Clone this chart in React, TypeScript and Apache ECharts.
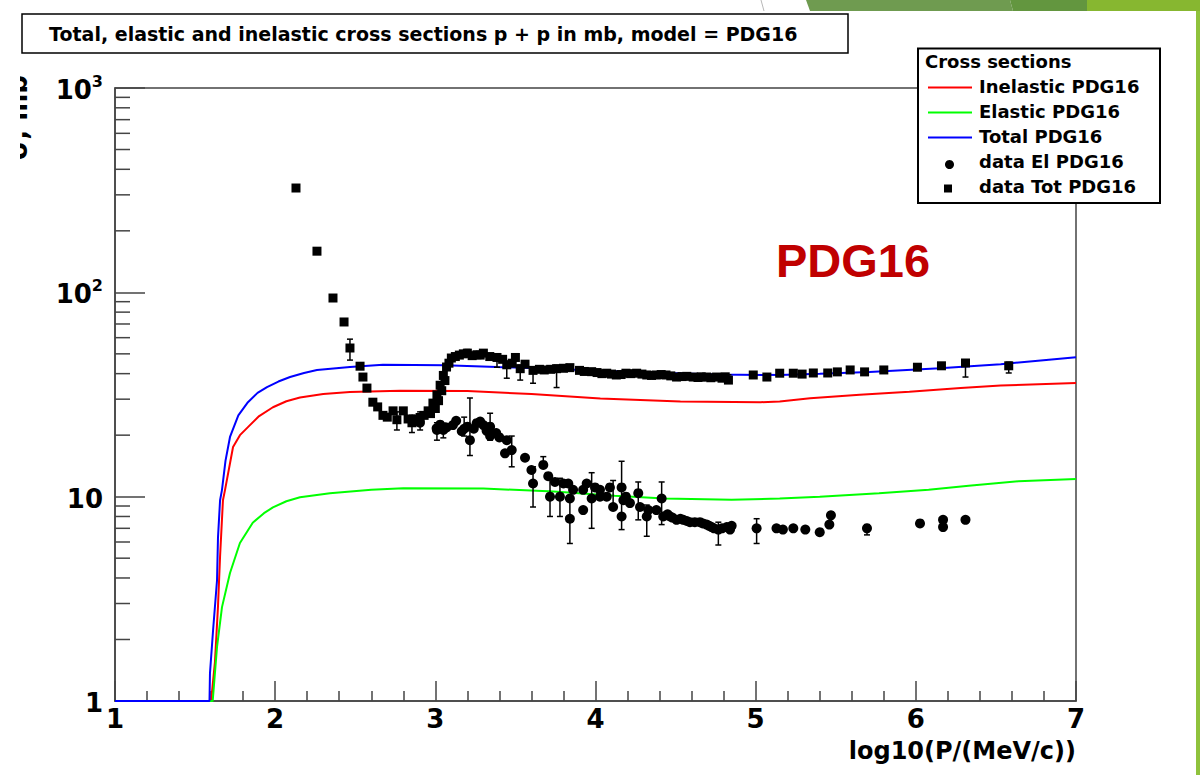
import React, { useEffect, useRef } from "react";
import * as echarts from "echarts";

// ---- model curves: [log10(P/(MeV/c)), sigma (mb)] ----
const inelasticCurve: number[][] = [
  [1.0, 1], [1.6, 1], [1.624, 1.55], [1.643, 2.9], [1.656, 5.1], [1.674, 9.6], [1.687, 10.8],
  [1.737, 17.5], [1.78, 20.0], [1.83, 21.9], [1.9, 24.8], [1.986, 27.4], [2.07, 29.3],
  [2.155, 30.6], [2.3, 31.8], [2.467, 32.5], [2.78, 33.0], [3.2, 32.9], [3.6, 31.8],
  [4.03, 30.2], [4.53, 29.2], [5.03, 29.0], [5.15, 29.2], [5.34, 30.3], [5.65, 31.5],
  [5.96, 32.6], [6.28, 34.0], [6.53, 35.0], [7.0, 36.0],
];

const elasticCurve: number[][] = [
  [1.0, 1], [1.61, 1], [1.637, 1.84], [1.668, 2.88], [1.718, 4.23], [1.78, 5.93], [1.86, 7.46],
  [1.93, 8.3], [1.986, 8.86], [2.07, 9.5], [2.155, 9.93], [2.342, 10.4], [2.6, 10.8],
  [2.8, 11.0], [3.3, 10.95], [3.74, 10.6], [4.12, 10.1], [4.43, 9.8], [4.85, 9.65],
  [5.15, 9.8], [5.4, 10.0], [5.77, 10.4], [6.08, 10.8], [6.33, 11.3], [6.64, 11.9], [7.0, 12.2],
];

const totalCurve: number[][] = [
  [1.0, 1], [1.59, 1], [1.593, 1.37], [1.612, 2.2], [1.637, 3.9], [1.643, 6.3], [1.656, 9.6],
  [1.668, 10.8], [1.69, 15.0], [1.718, 19.6], [1.77, 25.0], [1.83, 29.0], [1.89, 32.2],
  [1.949, 34.4], [2.02, 36.6], [2.093, 38.5], [2.18, 40.3], [2.261, 41.7], [2.467, 43.1],
  [2.673, 44.2], [3.06, 44.0], [3.385, 43.1], [3.75, 42.2], [4.03, 41.3], [4.4, 40.4],
  [4.75, 39.6], [5.15, 39.4], [5.4, 39.9], [5.71, 40.8], [6.15, 42.5], [6.53, 44.5],
  [6.78, 46.4], [7.0, 48.1],
];

// ---- measured data: [x, sigma, errLow, errHigh] (error ends optional) ----
const totalData: number[][] = [
  [2.13, 324], [2.261, 159], [2.361, 93.8], [2.43, 71.6], [2.467, 53.4, 46.6, 59.0],
  [2.53, 43.5], [2.548, 38.5], [2.573, 34.0], [2.61, 29.0], [2.64, 27.5], [2.673, 25.0],
  [2.7, 24.5], [2.736, 26.3], [2.76, 23.8, 21.2, 26.0], [2.8, 26.3], [2.83, 24.0],
  [2.854, 23.0, 20.6, 25.0], [2.88, 24.0], [2.905, 24.4, 21.2, 26.0], [2.93, 25.0],
  [2.955, 26.3], [2.97, 25.5], [2.985, 28.7], [3.0, 27.0], [3.01, 31.5], [3.02, 29.5],
  [3.03, 35.1], [3.04, 33.0], [3.05, 39.2], [3.06, 37.0], [3.07, 43.1], [3.085, 45.0],
  [3.1, 47.7], [3.125, 48.5], [3.15, 49.3], [3.175, 50.0], [3.2, 50.4, 48.5, 52.5],
  [3.23, 49.0], [3.26, 49.5], [3.28, 49.3], [3.3, 50.4], [3.34, 48.5],
  [3.385, 48.0, 43.0, 50.0], [3.42, 47.0], [3.446, 44.2, 38.0, 46.0], [3.48, 45.0],
  [3.5, 48.0], [3.53, 42.3, 37.2, 44.0], [3.56, 44.5], [3.61, 41.5, 35.9, 43.0], [3.65, 42.0],
  [3.68, 41.7], [3.72, 42.0], [3.757, 42.3, 34.2, 44.0], [3.8, 42.5], [3.84, 42.8],
  [3.9, 41.5], [3.93, 41.0], [3.976, 40.9], [4.01, 40.5], [4.04, 40.0], [4.07, 40.2],
  [4.1, 39.8], [4.13, 39.4], [4.16, 39.6], [4.19, 40.2], [4.22, 40.0], [4.257, 40.2],
  [4.29, 39.8], [4.32, 39.4], [4.35, 39.2], [4.38, 39.4], [4.41, 39.6], [4.44, 39.4],
  [4.47, 39.0], [4.506, 38.5], [4.54, 38.7], [4.57, 38.8], [4.61, 38.5], [4.64, 38.3],
  [4.66, 38.6], [4.694, 38.5], [4.72, 38.2], [4.756, 38.5], [4.79, 38.0], [4.81, 38.6],
  [4.83, 37.2, 36.0, 39.5], [4.985, 39.4], [5.07, 38.5], [5.15, 40.2], [5.235, 40.2],
  [5.29, 39.8], [5.36, 40.3], [5.45, 40.3], [5.51, 40.8], [5.59, 41.7], [5.68, 40.8],
  [5.8, 41.7], [6.01, 43.0], [6.16, 43.7], [6.31, 45.1, 38.5, 46.5], [6.58, 43.7, 40.3, 45.5],
];

const elasticData: number[][] = [
  [2.904, 23.0], [3.008, 21.6], [3.01, 21.2, 18.9, 23.0], [3.03, 22.5], [3.05, 21.2, 19.4, 22.9],
  [3.07, 21.8], [3.11, 22.4], [3.13, 23.5], [3.165, 20.9], [3.18, 21.5, 19.8, 24.5],
  [3.2, 22.0], [3.216, 18.9, 15.9, 30.4], [3.24, 21.5], [3.258, 22.9], [3.28, 23.3],
  [3.3, 22.4], [3.32, 21.0], [3.342, 22.0, 18.9, 25.6], [3.342, 19.8], [3.35, 20.2],
  [3.38, 20.5], [3.4, 19.5], [3.435, 16.3], [3.446, 18.9], [3.477, 16.9, 14.0, 19.8],
  [3.56, 15.5], [3.6, 13.5], [3.61, 11.6, 8.9, 14.0], [3.674, 14.3, 14.0, 15.7], [3.705, 12.6],
  [3.716, 10.0, 8.0, 12.6], [3.747, 11.8], [3.778, 10.0, 8.0, 12.3], [3.8, 11.6], [3.83, 11.6],
  [3.84, 9.8], [3.84, 7.8, 5.9, 9.6], [3.86, 10.8], [3.923, 10.8], [3.923, 8.6], [3.945, 11.6],
  [3.976, 9.8, 7.0, 13.1], [3.997, 11.1], [4.028, 10.8], [4.028, 10.0], [4.07, 10.0],
  [4.09, 11.1], [4.11, 8.9, 8.9, 12.0], [4.163, 11.1, 6.9, 14.9], [4.174, 9.6], [4.163, 8.0],
  [4.19, 10.0], [4.215, 9.3], [4.267, 10.4, 7.7, 11.8], [4.278, 8.9], [4.32, 8.0, 6.4, 9.1],
  [4.33, 8.6], [4.38, 8.6], [4.413, 9.8, 7.3, 11.8], [4.423, 8.0], [4.45, 8.2], [4.465, 8.0],
  [4.48, 7.9], [4.506, 7.7], [4.53, 7.8], [4.548, 7.7], [4.57, 7.6], [4.59, 7.5], [4.62, 7.5],
  [4.652, 7.5], [4.67, 7.4], [4.694, 7.3], [4.71, 7.2], [4.725, 7.1], [4.74, 7.0],
  [4.767, 6.9, 5.8, 7.5], [4.79, 7.0], [4.82, 7.1], [4.84, 6.9], [4.85, 7.2],
  [5.006, 7.0, 5.9, 7.8], [5.13, 7.0], [5.17, 6.9], [5.235, 7.0], [5.31, 6.9], [5.4, 6.7],
  [5.46, 7.3], [5.47, 8.1, 7.3, 8.4], [5.695, 7.0, 6.5, 7.3], [6.026, 7.4], [6.17, 7.7],
  [6.17, 7.1], [6.31, 7.7],
];

// ---- axis tick values ----
const yDecades = [1, 10, 100];
const yMinorMultipliers = [2, 3, 4, 5, 6, 7, 8, 9];

const TITLE = "Total, elastic and inelastic cross sections p + p in mb, model = PDG16";
const LEGEND_TITLE = "Cross sections";
const LEGEND_ITEMS = ["Inelastic PDG16", "Elastic PDG16", "Total PDG16", "data El PDG16", "data Tot PDG16"];
const X_NAME = "log10(P/(MeV/c))";
const Y_NAME = "σ, mb";
const BIG_LABEL = "PDG16";

const ROOT_FONT = '"DejaVu Sans"';
const AX = "#444";

function buildOption(): any {
  const minorTickData: number[][] = [];
  yDecades.forEach((d) => yMinorMultipliers.forEach((m) => minorTickData.push([1, d * m])));
  const errRows = [...totalData, ...elasticData].filter((r) => r.length >= 4);

  const txt = (text: string, x: number, y: number, size: number, extra: any = {}) => ({
    type: "text",
    x,
    y,
    z: 110,
    silent: true,
    style: {
      text,
      font: `bold ${size}px ${ROOT_FONT}`,
      fill: "#000",
      align: "left",
      verticalAlign: "middle",
      textAlign: "left",
      textVerticalAlign: "middle",
      ...extra,
    },
  });

  const graphic: any[] = [
    // slide decorations
    { type: "polygon", z: 1, silent: true, shape: { points: [[806, 0], [1010, 0], [1013, 11], [810, 11]] }, style: { fill: "#6f9b50" } },
    { type: "polygon", z: 1, silent: true, shape: { points: [[1010, 0], [1087, 0], [1087, 11], [1013, 11]] }, style: { fill: "#63963f" } },
    { type: "polygon", z: 1, silent: true, shape: { points: [[1087, 0], [1200, 0], [1200, 11], [1087, 11]] }, style: { fill: "#87b730" } },
    { type: "rect", z: 1, silent: true, shape: { x: 1196, y: 11, width: 4, height: 764 }, style: { fill: "#8fc23c" } },
    { type: "line", z: 1, silent: true, shape: { x1: 761, y1: 0, x2: 764, y2: 11 }, style: { stroke: "#b8b8b8", lineWidth: 1 } },
    // title box
    { type: "rect", z: 100, silent: true, shape: { x: 22, y: 14, width: 826, height: 39 }, style: { fill: "#fff", stroke: "#000", lineWidth: 1.5 } },
    txt(TITLE, 49, 33.5, 19),
    // legend box
    { type: "rect", z: 100, silent: true, shape: { x: 918, y: 48.5, width: 242, height: 154.5 }, style: { fill: "#fff", stroke: "#000", lineWidth: 2 } },
    txt(LEGEND_TITLE, 925, 61, 18),
    { type: "line", z: 110, silent: true, shape: { x1: 928, y1: 87.5, x2: 972, y2: 87.5 }, style: { stroke: "#ff0000", lineWidth: 2 } },
    { type: "line", z: 110, silent: true, shape: { x1: 928, y1: 112.5, x2: 972, y2: 112.5 }, style: { stroke: "#00ff00", lineWidth: 2 } },
    { type: "line", z: 110, silent: true, shape: { x1: 928, y1: 137.5, x2: 972, y2: 137.5 }, style: { stroke: "#0000ff", lineWidth: 2 } },
    { type: "circle", z: 110, silent: true, shape: { cx: 949.5, cy: 164.5, r: 4.5 }, style: { fill: "#000" } },
    { type: "rect", z: 110, silent: true, shape: { x: 944, y: 184.5, width: 8, height: 8 }, style: { fill: "#000" } },
    txt(LEGEND_ITEMS[0], 979, 86, 18),
    txt(LEGEND_ITEMS[1], 979, 111, 18),
    txt(LEGEND_ITEMS[2], 979, 136, 18),
    txt(LEGEND_ITEMS[3], 979, 161.5, 18),
    txt(LEGEND_ITEMS[4], 979, 186.5, 18),
    // PDG16 annotation
    {
      type: "text", x: 776, y: 260, z: 110, silent: true,
      style: { text: BIG_LABEL, font: 'bold 47px "Liberation Sans"', fill: "#c00000", align: "left", verticalAlign: "middle", textAlign: "left", textVerticalAlign: "middle" },
    },
    // y axis title (partially cut)
    {
      type: "text", x: 31, y: 160, rotation: Math.PI / 2, z: 105, silent: true,
      style: { text: Y_NAME, font: `bold 26px ${ROOT_FONT}`, fill: "#000", align: "left", verticalAlign: "bottom", textAlign: "left", textVerticalAlign: "bottom" },
    },
    { type: "rect", z: 106, silent: true, shape: { x: 0, y: 60, width: 20, height: 120 }, style: { fill: "#fff" } },
  ];

  const lineStyle = (color: string) => ({ color, width: 2 });
  const baseLabel = { color: "#000", fontFamily: ROOT_FONT, fontWeight: "bold", fontSize: 26 };

  return {
    animation: false,
    backgroundColor: "#ffffff",
    graphic,
    grid: {
      left: 115, right: 124, top: 88, bottom: 74,
      show: true, borderColor: AX, borderWidth: 1.5, backgroundColor: "transparent",
      containLabel: false, outerBoundsMode: "none",
    },
    xAxis: {
      type: "value", min: 1, max: 7, interval: 1,
      axisLine: { show: true, onZero: false, lineStyle: { color: AX, width: 1.5 } },
      axisTick: { show: true, inside: true, length: 20, lineStyle: { color: AX, width: 1.5 } },
      minorTick: { show: true, splitNumber: 5, length: 10, lineStyle: { color: AX, width: 1.5 } },
      splitLine: { show: false },
      minorSplitLine: { show: false },
      axisLabel: { ...baseLabel, margin: 5 },
      name: X_NAME,
      nameLocation: "end",
      nameGap: 0,
      nameMoveOverlap: false,
      nameTextStyle: { color: "#000", fontFamily: ROOT_FONT, fontWeight: "bold", fontSize: 24, align: "right", verticalAlign: "top", padding: [38, 0, 0, 0] },
    },
    yAxis: {
      type: "log", logBase: 10, min: 1, max: 1000,
      axisLine: { show: true, onZero: false, lineStyle: { color: AX, width: 1.5 } },
      axisTick: { show: true, inside: true, length: 30, lineStyle: { color: AX, width: 1.5 } },
      splitLine: { show: false },
      axisLabel: {
        margin: 12,
        formatter: (v: number) => {
          const e = Math.round(Math.log10(v));
          if (e === 0) return "{b|1}";
          if (e === 1) return "{b|10}";
          return `{b|10}{s|${e}}`;
        },
        rich: {
          b: { ...baseLabel, lineHeight: 30, verticalAlign: "bottom" },
          s: { color: "#000", fontFamily: ROOT_FONT, fontWeight: "bold", fontSize: 16, lineHeight: 16, verticalAlign: "top" },
        },
      },
    },
    series: [
      { type: "line", name: LEGEND_ITEMS[0], data: inelasticCurve, symbol: "none", showSymbol: false, lineStyle: lineStyle("#ff0000"), itemStyle: { color: "#ff0000" }, z: 3, silent: true },
      { type: "line", name: LEGEND_ITEMS[1], data: elasticCurve, symbol: "none", showSymbol: false, lineStyle: lineStyle("#00ff00"), itemStyle: { color: "#00ff00" }, z: 3, silent: true },
      { type: "line", name: LEGEND_ITEMS[2], data: totalCurve, symbol: "none", showSymbol: false, lineStyle: lineStyle("#0000ff"), itemStyle: { color: "#0000ff" }, z: 3, silent: true },
      {
        type: "custom", name: "errors", data: errRows, encode: { x: 0, y: 1 }, z: 4, silent: true,
        renderItem: (_p: any, api: any) => {
          const x = api.value(0);
          const a = api.coord([x, api.value(2)]);
          const b = api.coord([x, api.value(3)]);
          const st = { stroke: "#000", lineWidth: 1.5 };
          return {
            type: "group",
            children: [
              { type: "line", shape: { x1: a[0], y1: a[1], x2: b[0], y2: b[1] }, style: st },
              { type: "line", shape: { x1: a[0] - 3, y1: a[1], x2: a[0] + 3, y2: a[1] }, style: st },
              { type: "line", shape: { x1: b[0] - 3, y1: b[1], x2: b[0] + 3, y2: b[1] }, style: st },
            ],
          };
        },
      },
      { type: "scatter", name: LEGEND_ITEMS[3], data: elasticData.map((r) => [r[0], r[1]]), symbol: "circle", symbolSize: 10, itemStyle: { color: "#000", opacity: 1 }, z: 5, silent: true },
      { type: "scatter", name: LEGEND_ITEMS[4], data: totalData.map((r) => [r[0], r[1]]), symbol: "rect", symbolSize: 9, itemStyle: { color: "#000", opacity: 1 }, z: 5, silent: true },
      {
        type: "custom", name: "yMinorTicks", data: minorTickData, encode: { x: 0, y: 1 }, z: 6, silent: true,
        renderItem: (_p: any, api: any) => {
          const p = api.coord([1, api.value(1)]);
          return { type: "line", shape: { x1: p[0], y1: p[1], x2: p[0] + 15, y2: p[1] }, style: { stroke: AX, lineWidth: 1.5 } };
        },
      },
    ],
  };
}

export default function App() {
  const ref = useRef<HTMLDivElement>(null);
  useEffect(() => {
    if (!ref.current) return;
    const chart = echarts.init(ref.current, null, { renderer: "svg" });
    chart.setOption(buildOption());
    return () => chart.dispose();
  }, []);
  return (
    <div
      ref={ref}
      style={{ position: "absolute", left: 0, top: 0, width: 1200, height: 775, background: "#fff" }}
    />
  );
}
